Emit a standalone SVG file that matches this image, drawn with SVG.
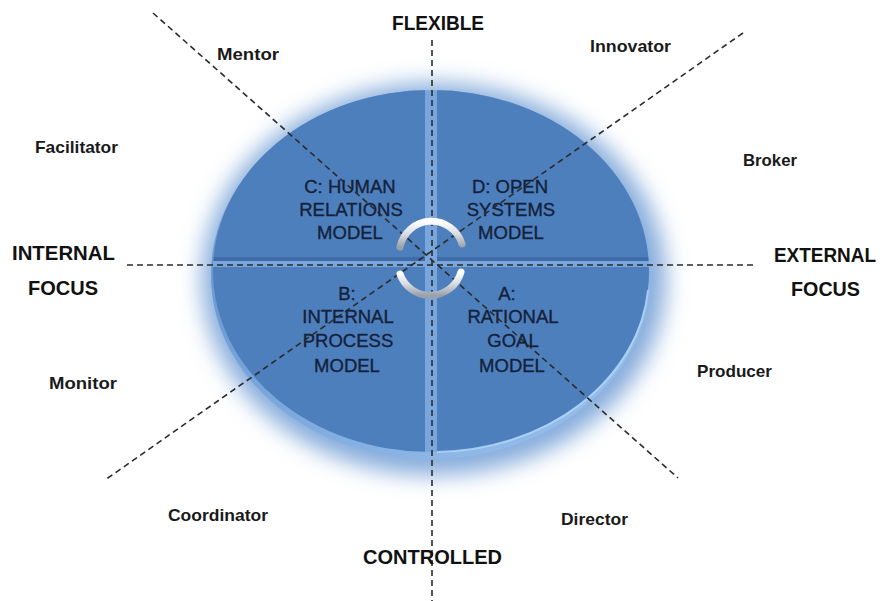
<svg xmlns="http://www.w3.org/2000/svg" width="887" height="601" viewBox="0 0 887 601">
  <style>
    .role { font-family: "Liberation Sans", Arial, sans-serif; font-weight: bold; font-size: 17px; fill: #1a1a1a; }
    .axis { font-family: "Liberation Sans", Arial, sans-serif; font-weight: bold; font-size: 21px; fill: #111111; }
    .qt { font-family: "Liberation Sans", Arial, sans-serif; font-size: 18.5px; fill: #14213a; text-anchor: middle; stroke: #14213a; stroke-width: 0.35; }
    .quad { fill: #4d7fbd; }
    .dash { fill: none; stroke: #2b2b2b; stroke-width: 1.6; stroke-dasharray: 6 4; }
    .arc { fill: none; stroke: url(#silver); stroke-width: 7; stroke-linecap: round; }
  </style>
  <defs>
    <filter id="blur" x="-20%" y="-20%" width="140%" height="140%">
      <feGaussianBlur stdDeviation="11"/>
    </filter>
    <clipPath id="face">
      <ellipse cx="431" cy="271" rx="218" ry="181"/>
    </clipPath>
    <linearGradient id="rim" x1="0" y1="0" x2="1" y2="1">
      <stop offset="0" stop-color="#5a8bc8"/>
      <stop offset="1" stop-color="#9cc4f0"/>
    </linearGradient>
    <linearGradient id="silver" x1="0" y1="0" x2="0" y2="1">
      <stop offset="0" stop-color="#ffffff"/>
      <stop offset="0.5" stop-color="#d9dde3"/>
      <stop offset="1" stop-color="#9aa1ab"/>
    </linearGradient>
  </defs>
  <rect width="887" height="601" fill="#ffffff"/>

  <!-- disk -->
  <g id="disk">
    <ellipse cx="434" cy="279" rx="232" ry="196" fill="#86acdb" filter="url(#blur)"/>
    <ellipse cx="431" cy="275" rx="220" ry="184" fill="url(#rim)"/>
    <ellipse cx="431" cy="271" rx="218" ry="181" fill="#79a7dd"/>
    <g clip-path="url(#face)">
      <rect x="200" y="80" width="225" height="177" class="quad"/>
      <rect x="437" y="80" width="225" height="177" class="quad"/>
      <rect x="200" y="257" width="225" height="4" fill="#3f6ca8"/>
      <rect x="437" y="257" width="225" height="4" fill="#3f6ca8"/>
      <rect x="200" y="267" width="225" height="190" class="quad"/>
      <rect x="437" y="267" width="225" height="190" class="quad"/>
    </g>
    <path d="M 648 290 A 216 176 0 0 1 437 452" fill="none" stroke="#b4d4f6" stroke-width="2" opacity="0.8"/>
  </g>

  <!-- quadrant labels -->
  <g id="quadC">
    <text class="qt" x="350" y="193">C: HUMAN</text>
    <text class="qt" x="351" y="216">RELATIONS</text>
    <text class="qt" x="350" y="239">MODEL</text>
  </g>
  <g id="quadD">
    <text class="qt" x="510" y="193">D: OPEN</text>
    <text class="qt" x="511" y="216">SYSTEMS</text>
    <text class="qt" x="511" y="239">MODEL</text>
  </g>
  <g id="quadB">
    <text class="qt" x="347" y="300">B:</text>
    <text class="qt" x="348" y="323">INTERNAL</text>
    <text class="qt" x="348" y="347">PROCESS</text>
    <text class="qt" x="347" y="372">MODEL</text>
  </g>
  <g id="quadA">
    <text class="qt" x="507" y="300">A:</text>
    <text class="qt" x="513" y="323">RATIONAL</text>
    <text class="qt" x="513" y="347">GOAL</text>
    <text class="qt" x="512" y="372">MODEL</text>
  </g>

  <!-- connectors -->
  <g id="connectors">
    <line class="dash" x1="432" y1="40" x2="432" y2="601"/>
    <line class="dash" x1="127" y1="265" x2="757" y2="265"/>
    <line class="dash" x1="153" y1="13" x2="678" y2="478"/>
    <line class="dash" x1="743" y1="33" x2="105" y2="480"/>
  </g>

  <!-- center cycle arrows -->
  <g id="cycle">
    <path class="arc" d="M 400 247 A 32 32 0 0 1 462 244"/>
    <path class="arc" d="M 400 274 A 32 32 0 0 0 461 272"/>
  </g>

  <!-- axis labels -->
  <g id="flexible"><text class="axis" x="392" y="30" textLength="92" lengthAdjust="spacingAndGlyphs">FLEXIBLE</text></g>
  <g id="controlled"><text class="axis" x="363" y="564" textLength="139" lengthAdjust="spacingAndGlyphs">CONTROLLED</text></g>
  <g id="internal-focus">
    <text class="axis" x="12" y="260" textLength="103" lengthAdjust="spacingAndGlyphs">INTERNAL</text>
    <text class="axis" x="28" y="295" textLength="70" lengthAdjust="spacingAndGlyphs">FOCUS</text>
  </g>
  <g id="external-focus">
    <text class="axis" x="774" y="262" textLength="102" lengthAdjust="spacingAndGlyphs">EXTERNAL</text>
    <text class="axis" x="791" y="296" textLength="69" lengthAdjust="spacingAndGlyphs">FOCUS</text>
  </g>

  <!-- role labels -->
  <g id="mentor"><text class="role" x="217" y="60" textLength="62" lengthAdjust="spacingAndGlyphs">Mentor</text></g>
  <g id="innovator"><text class="role" x="590" y="52" textLength="81" lengthAdjust="spacingAndGlyphs">Innovator</text></g>
  <g id="facilitator"><text class="role" x="35" y="153" textLength="83" lengthAdjust="spacingAndGlyphs">Facilitator</text></g>
  <g id="broker"><text class="role" x="743" y="166" textLength="54" lengthAdjust="spacingAndGlyphs">Broker</text></g>
  <g id="monitor"><text class="role" x="49" y="389" textLength="68" lengthAdjust="spacingAndGlyphs">Monitor</text></g>
  <g id="producer"><text class="role" x="697" y="377" textLength="75" lengthAdjust="spacingAndGlyphs">Producer</text></g>
  <g id="coordinator"><text class="role" x="168" y="521" textLength="100" lengthAdjust="spacingAndGlyphs">Coordinator</text></g>
  <g id="director"><text class="role" x="561" y="525" textLength="67" lengthAdjust="spacingAndGlyphs">Director</text></g>
</svg>
